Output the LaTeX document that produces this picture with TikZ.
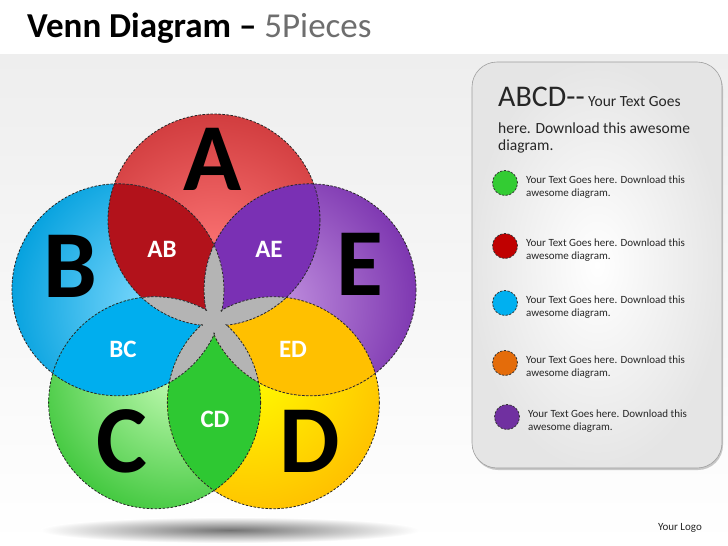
\documentclass[tikz,border=0pt]{standalone}
\usepackage{fontspec}
\setmainfont{Carlito}
\usetikzlibrary{positioning,calc}
\definecolor{bgTop}{HTML}{EEEEEE}
\definecolor{titleGray}{HTML}{6E6E6E}
\definecolor{txtDark}{HTML}{262626}
\definecolor{Alite}{HTML}{FF7878}
\definecolor{Adark}{HTML}{CF3A3C}
\definecolor{Blite}{HTML}{84DCFF}
\definecolor{Bdark}{HTML}{009FDD}
\definecolor{Clite}{HTML}{CCFFBC}
\definecolor{Cdark}{HTML}{3DC63A}
\definecolor{Dlite}{HTML}{FFFF00}
\definecolor{Ddark}{HTML}{FFBE00}
\definecolor{Elite}{HTML}{C596E2}
\definecolor{Edark}{HTML}{7A32AE}
\definecolor{ABcol}{HTML}{B2121B}
\definecolor{AEcol}{HTML}{7A30B4}
\definecolor{EDcol}{HTML}{FFC000}
\definecolor{CDcol}{HTML}{2EC832}
\definecolor{BCcol}{HTML}{00AEEE}
\definecolor{coreGray}{HTML}{B4B4B4}
\definecolor{bulGreen}{HTML}{33CC33}
\definecolor{bulRed}{HTML}{C00000}
\definecolor{bulBlue}{HTML}{00B0F0}
\definecolor{bulOrange}{HTML}{E46C0A}
\definecolor{bulPurple}{HTML}{7030A0}
\tikzset{
    every node/.style={font=\fontsize{10}{12}\selectfont},
    bigletter/.style={font=\fontsize{96}{96}\selectfont\bfseries, anchor=base, inner sep=0pt},
    petallabel/.style={font=\fontsize{25}{25}\selectfont\bfseries, text=white, anchor=base, inner sep=0pt},
    outline/.style={draw=black!85, dash pattern=on 2.4pt off 1.6pt, line width=0.8pt},
    bullet/.style={circle, minimum size=25pt, inner sep=0pt, draw=black!80, dash pattern=on 2.2pt off 1.5pt, line width=0.8pt},
    bullettext/.style={anchor=west, align=left, inner sep=0pt, text=txtDark, font=\fontsize{11}{12.5}\selectfont},
    headtext/.style={anchor=base west, inner sep=0pt, text=txtDark, font=\fontsize{15.5}{17}\selectfont},
}

\begin{document}
\begin{tikzpicture}[x=1pt, y=-1pt]
   % slide background
   \fill[white] (0,0) rectangle (728,546);
   \shade[top color=bgTop, bottom color=white] (0,54) rectangle (728,546);
   \useasboundingbox (0,0) rectangle (728,546);
   \node[anchor=base west, inner sep=0pt, font=\fontsize{35}{35}\selectfont] (title) at (27,37)
      {\textbf{Venn Diagram –} \textcolor{titleGray}{5Pieces}};
   % shadow under the circles
   \shade[inner color=black!55, outer color=white] (230,530) ellipse (190 and 13);
   % five circles
   \def\R{106}
   \coordinate (O) at (214,321);
   \foreach \n/\a in {A/-90, B/-162, C/-234, D/-306, E/-18}
      \coordinate (\n) at ($(O)+(\a:101)$);
   \foreach \n in {A,B,C,D,E} {
      \begin{scope}
         \clip (\n) circle (\R);
         \shade[inner color=\n lite, outer color=\n dark] ($(\n)!0.45!(O)$) circle (1.5*\R);
      \end{scope}
   }
   % two-circle overlaps
   \foreach \p/\q/\c in {A/B/ABcol, B/C/BCcol, C/D/CDcol, D/E/EDcol, E/A/AEcol} {
      \begin{scope}
         \clip (\p) circle (\R);
         \fill[\c] (\q) circle (\R);
      \end{scope}
   }
   % three or more circles
   \foreach \p/\q/\r in {A/B/C, A/B/D, A/B/E, A/C/D, A/C/E, A/D/E, B/C/D, B/C/E, B/D/E, C/D/E} {
      \begin{scope}
         \clip (\p) circle (\R);
         \clip (\q) circle (\R);
         \fill[coreGray] (\r) circle (\R);
      \end{scope}
   }
   \foreach \n in {A,B,C,D,E}
      \draw[outline] (\n) circle (\R);
   \foreach \p/\q/\r in {A/B/C, A/B/D, A/B/E, A/C/D, A/C/E, A/D/E, B/C/D, B/C/E, B/D/E, C/D/E} {
      \begin{scope}
         \clip (\p) circle (\R-1.4);
         \clip (\q) circle (\R-1.4);
         \fill[coreGray] (\r) circle (\R-1.4);
      \end{scope}
   }
   % labels
   \node[bigletter] (labA) at (213,190) {A};
   \node[bigletter] (labB) at (70,297) {B};
   \node[bigletter] (labC) at (122,472) {C};
   \node[bigletter] (labD) at (310,472) {D};
   \node[bigletter] (labE) at (360,295) {E};
   \node[petallabel] (labAB) at (162,257) {AB};
   \node[petallabel] (labAE) at (269,257) {AE};
   \node[petallabel] (labBC) at (123,357) {BC};
   \node[petallabel] (labED) at (293,357) {ED};
   \node[petallabel] (labCD) at (215,427) {CD};
   % text panel
   \fill[black!22, rounded corners=25pt] (473,64) rectangle (723,470);
   \shade[draw=black!38, line width=0.6pt, rounded corners=25pt, inner color=white, outer color=black!10] (472,62) rectangle (722,468);
   \node[headtext] (head1) at (498,106) {{\fontsize{30}{30}\selectfont ABCD-\/-} Your Text Goes};
   \node[headtext] (head2) at (498,133) {here. Download this awesome};
   \node[headtext] (head3) at (498,150) {diagram.};
   \foreach \c/\x/\y [count=\i] in {bulGreen/505/183, bulRed/505/246, bulBlue/505/303, bulOrange/505/363, bulPurple/507/417} {
      \node[bullet, fill=\c] (b\i) at (\x,\y) {};
      \node[bullettext, right=8pt of b\i, yshift=-4pt] (t\i) {Your Text Goes here. Download this\\awesome diagram.};
   }
   \node[anchor=base east, inner sep=0pt, text=txtDark, font=\fontsize{11}{13}\selectfont] (logo) at (702,530) {Your Logo};
\end{tikzpicture}
\end{document}
